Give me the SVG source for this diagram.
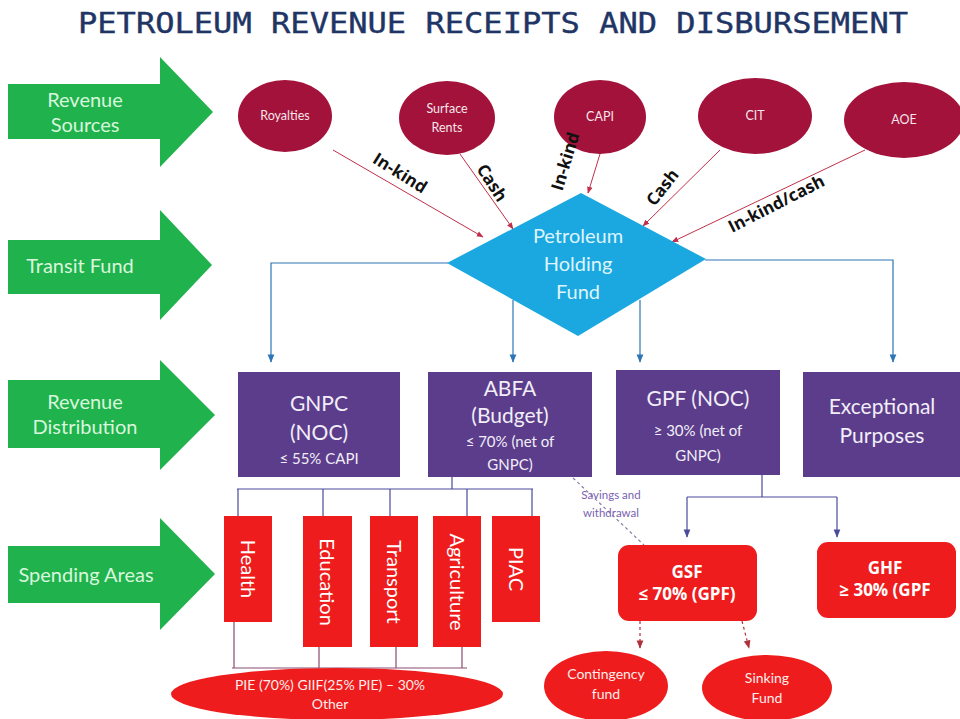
<svg xmlns="http://www.w3.org/2000/svg" width="960" height="719" viewBox="0 0 960 719">
<defs>
<marker id="ar" viewBox="0 0 10 10" refX="9" refY="5" markerWidth="7" markerHeight="7" orient="auto"><path d="M0,1 L10,5 L0,9 Z" fill="#c0304a"/></marker>
<marker id="ab" viewBox="0 0 10 10" refX="9" refY="5" markerWidth="7" markerHeight="7" orient="auto"><path d="M0,1 L10,5 L0,9 Z" fill="#2e75b6"/></marker>
<marker id="ap" viewBox="0 0 10 10" refX="9" refY="5" markerWidth="7" markerHeight="7" orient="auto"><path d="M0,1 L10,5 L0,9 Z" fill="#4b4b9b"/></marker>
<marker id="ad" viewBox="0 0 10 10" refX="9" refY="5" markerWidth="7" markerHeight="7" orient="auto"><path d="M0,1 L10,5 L0,9 Z" fill="#b0303a"/></marker>
</defs>
<style>
.title{font-family:"DejaVu Sans Mono","Liberation Mono",monospace;font-size:28px;font-weight:normal;fill:#1f3566;stroke:#1f3566;stroke-width:0.4}
.garrow{fill:#1fb24d}
.gtxt{font-family:Lato,"Open Sans",sans-serif;font-size:20px;fill:#d9f7dc;text-anchor:middle}
.src{fill:#a3123a}
.srct{font-family:Lato,"Open Sans",sans-serif;font-size:12.5px;fill:#f4e6ea;text-anchor:middle}
.lbl{font-family:"Open Sans","Liberation Sans",sans-serif;font-size:17px;font-weight:bold;fill:#111;text-anchor:middle}
.rl{stroke:#c0304a;stroke-width:1;fill:none}
.bl{stroke:#2e75b6;stroke-width:1.2;fill:none}
.pl{stroke:#4b4b9b;stroke-width:1.2;fill:none}
.ml{stroke:#8a4a70;stroke-width:1.2;fill:none}
.box{fill:#5b3d8b}
.bt{font-family:Lato,"Open Sans",sans-serif;font-size:21px;fill:#f2eef8;text-anchor:middle}
.bs{font-family:Lato,"Open Sans",sans-serif;font-size:15px;fill:#f2eef8;text-anchor:middle}
.red{fill:#ee1c1c}
.rt{font-family:Lato,"Open Sans",sans-serif;font-size:20px;fill:#ffffff;text-anchor:middle}
.rs{font-family:Lato,"Open Sans",sans-serif;font-size:14px;fill:#ffecec;text-anchor:middle}
.rb{font-family:"Open Sans","Liberation Sans",sans-serif;font-size:17px;font-weight:bold;fill:#ffffff;text-anchor:middle}
</style>
<rect width="960" height="719" fill="#ffffff"/>
<text class="title" x="493" y="33" text-anchor="middle" textLength="830" lengthAdjust="spacingAndGlyphs">PETROLEUM REVENUE RECEIPTS AND DISBURSEMENT</text>

<g id="arrow-revenue-sources"><polygon class="garrow" points="8,84 160,84 160,57 213,112 160,167 160,139 8,139"/><text class="gtxt" x="85" y="107">Revenue</text><text class="gtxt" x="85" y="132">Sources</text></g>
<g id="arrow-transit-fund"><polygon class="garrow" points="8,240 160,240 160,210 212,265 160,320 160,294 8,294"/><text class="gtxt" x="80" y="273">Transit Fund</text></g>
<g id="arrow-revenue-distribution"><polygon class="garrow" points="8,380 160,380 160,360 215,415 160,470 160,448 8,448"/><text class="gtxt" x="85" y="409">Revenue</text><text class="gtxt" x="85" y="434">Distribution</text></g>
<g id="arrow-spending-areas"><polygon class="garrow" points="8,546 160,546 160,518 215,574 160,630 160,603 8,603"/><text class="gtxt" x="86" y="582">Spending Areas</text></g>

<g id="royalties"><ellipse class="src" cx="285" cy="116" rx="47" ry="36"/><text class="srct" x="285" y="120">Royalties</text></g>
<g id="surface-rents"><ellipse class="src" cx="447" cy="118" rx="48" ry="37"/><text class="srct" x="447" y="113">Surface</text><text class="srct" x="447" y="132">Rents</text></g>
<g id="capi"><ellipse class="src" cx="600" cy="117" rx="46" ry="37"/><text class="srct" x="600" y="121">CAPI</text></g>
<g id="cit"><ellipse class="src" cx="755" cy="116" rx="57" ry="38"/><text class="srct" x="755" y="120">CIT</text></g>
<g id="aoe"><ellipse class="src" cx="904" cy="120" rx="60" ry="38"/><text class="srct" x="904" y="124">AOE</text></g>

<g id="connectors">
<line class="rl" x1="333" y1="150" x2="483" y2="237" marker-end="url(#ar)"/>
<line class="rl" x1="460" y1="154" x2="513" y2="229" marker-end="url(#ar)"/>
<line class="rl" x1="600" y1="154" x2="588" y2="193" marker-end="url(#ar)"/>
<line class="rl" x1="720" y1="150" x2="643" y2="226" marker-end="url(#ar)"/>
<line class="rl" x1="865" y1="150" x2="672" y2="242" marker-end="url(#ar)"/>
<text class="lbl" transform="translate(397,178) rotate(32)">In-kind</text>
<text class="lbl" transform="translate(487,186) rotate(57)">Cash</text>
<text class="lbl" transform="translate(571,163) rotate(-73)">In-kind</text>
<text class="lbl" transform="translate(667,191) rotate(-52)">Cash</text>
<text class="lbl" transform="translate(779,209) rotate(-27)">In-kind/cash</text>

<polyline class="bl" points="448,263 271,263 271,362" marker-end="url(#ab)"/>
<line class="bl" x1="513" y1="300" x2="513" y2="362" marker-end="url(#ab)"/>
<line class="bl" x1="640" y1="300" x2="640" y2="362" marker-end="url(#ab)"/>
<polyline class="bl" points="705,260 893,260 893,362" marker-end="url(#ab)"/>

<polyline class="pl" points="452,477 452,489"/>
<line class="pl" x1="237" y1="489" x2="533" y2="489"/>
<line class="pl" x1="238" y1="489" x2="238" y2="516"/>
<line class="pl" x1="323" y1="489" x2="323" y2="516"/>
<line class="pl" x1="390" y1="489" x2="390" y2="516"/>
<line class="pl" x1="467" y1="489" x2="467" y2="516"/>
<line class="pl" x1="532" y1="489" x2="532" y2="516"/>

<line class="ml" x1="234" y1="622" x2="234" y2="668"/>
<line class="ml" x1="319" y1="647" x2="319" y2="668"/>
<line class="ml" x1="396" y1="647" x2="396" y2="668"/>
<line class="ml" x1="462" y1="647" x2="462" y2="668"/>
<line class="ml" x1="232" y1="668" x2="467" y2="668"/>

<line x1="573" y1="478" x2="644" y2="545" stroke="#8a7aa8" stroke-width="1.2" stroke-dasharray="3,3"/>
<text x="611" y="499" font-family="Lato,'Open Sans',sans-serif" font-size="11.5" fill="#7a5fb0" text-anchor="middle">Savings and</text>
<text x="611" y="517" font-family="Lato,'Open Sans',sans-serif" font-size="11.5" fill="#7a5fb0" text-anchor="middle">withdrawal</text>

<polyline class="pl" points="762,475 762,497"/>
<polyline class="pl" points="687,497 837,497"/>
<line class="pl" x1="687" y1="497" x2="687" y2="537" marker-end="url(#ap)"/>
<line class="pl" x1="837" y1="497" x2="837" y2="537" marker-end="url(#ap)"/>

<line x1="640" y1="621" x2="640" y2="648" stroke="#b0303a" stroke-width="1.2" stroke-dasharray="3,3" marker-end="url(#ad)"/>
<line x1="742" y1="621" x2="749" y2="648" stroke="#b0303a" stroke-width="1.2" stroke-dasharray="3,3" marker-end="url(#ad)"/>
</g>

<g id="petroleum-holding-fund"><polygon points="581,193 706,259 578,336 447,263" fill="#1ba8e0"/>
<text class="rt" x="578" y="243" style="fill:#dff4fc">Petroleum</text><text class="rt" x="578" y="271" style="fill:#dff4fc">Holding</text><text class="rt" x="578" y="299" style="fill:#dff4fc">Fund</text></g>

<g id="gnpc"><rect class="box" x="238" y="372" width="162" height="105"/><text class="bt" x="319" y="411">GNPC</text><text class="bt" x="319" y="440">(NOC)</text><text class="bs" x="319" y="464">≤ 55% CAPI</text></g>
<g id="abfa"><rect class="box" x="428" y="372" width="164" height="105"/><text class="bt" x="510" y="396">ABFA</text><text class="bt" x="510" y="423">(Budget)</text><text class="bs" x="510" y="447">≤ 70% (net of</text><text class="bs" x="510" y="470">GNPC)</text></g>
<g id="gpf"><rect class="box" x="616" y="370" width="164" height="105"/><text class="bt" x="698" y="406">GPF (NOC)</text><text class="bs" x="698" y="436">≥ 30% (net of</text><text class="bs" x="698" y="461">GNPC)</text></g>
<g id="exceptional"><rect class="box" x="803" y="372" width="160" height="105"/><text class="bt" x="882" y="414">Exceptional</text><text class="bt" x="882" y="443">Purposes</text></g>

<g id="health"><rect class="red" x="224" y="516" width="48" height="106"/><text class="rt" transform="translate(248,569) rotate(90)" dy="7">Health</text></g>
<g id="education"><rect class="red" x="303" y="516" width="49" height="131"/><text class="rt" transform="translate(327,582) rotate(90)" dy="7">Education</text></g>
<g id="transport"><rect class="red" x="370" y="516" width="48" height="131"/><text class="rt" transform="translate(394,582) rotate(90)" dy="7">Transport</text></g>
<g id="agriculture"><rect class="red" x="433" y="516" width="48" height="131"/><text class="rt" transform="translate(457,582) rotate(90)" dy="7">Agriculture</text></g>
<g id="piac"><rect class="red" x="492" y="516" width="48" height="106"/><text class="rt" transform="translate(516,569) rotate(90)" dy="7">PIAC</text></g>

<g id="pie"><ellipse class="red" cx="337" cy="694" rx="166" ry="26"/><text class="rs" x="330" y="690">PIE (70%) GIIF(25% PIE) – 30%</text><text class="rs" x="330" y="709">Other</text></g>

<g id="gsf"><rect class="red" x="618" y="545" width="139" height="76" rx="11"/><text class="rb" x="687" y="578">GSF</text><text class="rb" x="687" y="600">≤ 70% (GPF)</text></g>
<g id="ghf"><rect class="red" x="817" y="542" width="139" height="76" rx="11"/><text class="rb" x="885" y="574">GHF</text><text class="rb" x="885" y="596">≥ 30% (GPF</text></g>

<g id="contingency-fund"><ellipse class="red" cx="606" cy="686" rx="62" ry="35"/><text class="rs" x="606" y="679">Contingency</text><text class="rs" x="606" y="699">fund</text></g>
<g id="sinking-fund"><ellipse class="red" cx="767" cy="688" rx="65" ry="33"/><text class="rs" x="767" y="683">Sinking</text><text class="rs" x="767" y="703">Fund</text></g>
</svg>
